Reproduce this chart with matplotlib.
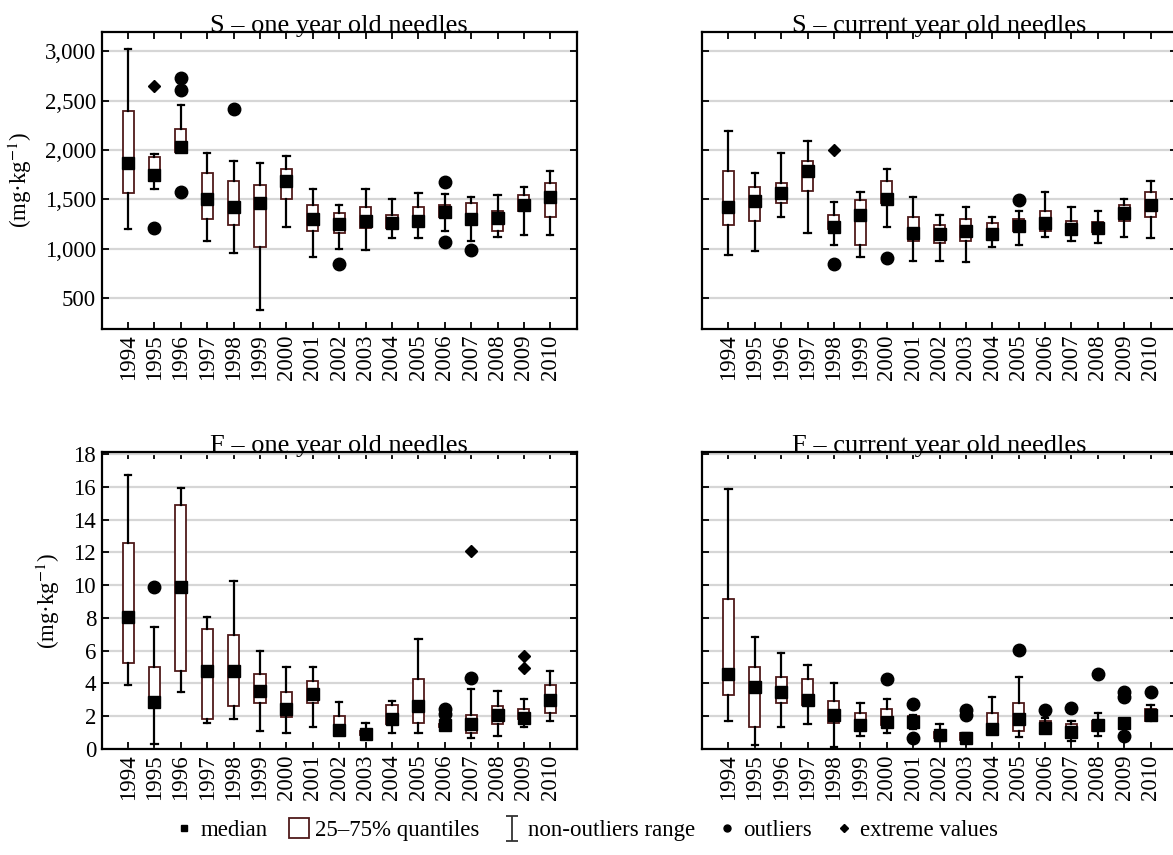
import matplotlib.pyplot as plt
from matplotlib.lines import Line2D
from matplotlib.path import Path
from matplotlib.ticker import StrMethodFormatter

plt.rcParams['font.family'] = ['Liberation Serif', 'DejaVu Serif']
plt.rcParams['mathtext.fontset'] = 'stix'

years = list(range(1994, 2011))

# S - one year old needles (mg/kg)
s1_lo = [1200, 1600, 1975, 1080, 960, 375, 1220, 920, 1000, 985, 1105, 1105, 1180, 1080, 1120, 1140, 1140]
s1_q1 = [1565, 1690, 1975, 1305, 1240, 1020, 1505, 1180, 1160, 1205, 1205, 1240, 1320, 1265, 1180, 1385, 1320]
s1_med = [1865, 1745, 2030, 1500, 1420, 1465, 1685, 1305, 1250, 1285, 1255, 1285, 1370, 1305, 1310, 1440, 1525]
s1_q3 = [2395, 1930, 2210, 1770, 1685, 1650, 1805, 1440, 1365, 1420, 1340, 1420, 1440, 1465, 1385, 1540, 1670]
s1_hi = [3020, 1960, 2455, 1970, 1885, 1870, 1935, 1605, 1440, 1605, 1500, 1565, 1550, 1520, 1540, 1625, 1785]
s1_out_x = [1995, 1996, 1996, 1996, 1998, 2002, 2006, 2006, 2007]
s1_out_y = [1210, 2735, 2610, 1570, 2420, 845, 1675, 1070, 985]
s1_ext_x = [1995]
s1_ext_y = [2645]

# S - current year old needles (mg/kg)
s2_lo = [935, 980, 1320, 1160, 1035, 920, 1220, 875, 875, 860, 1020, 1035, 1120, 1080, 1060, 1120, 1105]
s2_q1 = [1240, 1280, 1460, 1585, 1200, 1035, 1460, 1080, 1060, 1080, 1140, 1180, 1180, 1145, 1170, 1280, 1320]
s2_med = [1425, 1485, 1565, 1785, 1220, 1345, 1505, 1160, 1145, 1180, 1145, 1230, 1265, 1195, 1210, 1365, 1445]
s2_q3 = [1790, 1625, 1670, 1890, 1340, 1490, 1685, 1320, 1240, 1300, 1265, 1305, 1385, 1285, 1275, 1440, 1570]
s2_hi = [2190, 1770, 1970, 2090, 1470, 1570, 1805, 1525, 1340, 1425, 1325, 1385, 1570, 1425, 1385, 1505, 1685]
s2_out_x = [1998, 2000, 2005]
s2_out_y = [845, 910, 1495]
s2_ext_x = [1998]
s2_ext_y = [2000]

# F - one year old needles (mg/kg)
f1_lo = [3.9, 0.3, 3.45, 1.6, 1.85, 1.1, 1.0, 1.35, 0.95, 0.7, 1.0, 1.0, 1.3, 0.65, 0.8, 1.35, 1.7]
f1_q1 = [5.25, 2.8, 4.75, 1.85, 2.6, 2.8, 1.95, 2.8, 1.2, 0.85, 1.5, 1.6, 1.35, 1.0, 1.5, 1.85, 2.2]
f1_med = [8.05, 2.85, 9.9, 4.75, 4.75, 3.55, 2.45, 3.35, 1.15, 0.9, 1.85, 2.6, 1.45, 1.5, 2.1, 1.9, 3.0]
f1_q3 = [12.55, 5.0, 14.9, 7.3, 6.95, 4.6, 3.45, 4.15, 2.0, 1.1, 2.7, 4.3, 1.55, 2.1, 2.6, 2.45, 3.9]
f1_hi = [16.7, 7.45, 15.95, 8.05, 10.25, 6.0, 5.0, 5.0, 2.85, 1.6, 2.95, 6.7, 1.6, 3.65, 3.55, 3.05, 4.75]
f1_out_x = [1995, 2006, 2006, 2007]
f1_out_y = [9.9, 2.45, 2.15, 4.35]
f1_ext_x = [2007, 2009, 2009]
f1_ext_y = [12.1, 5.7, 4.95]

# F - current year old needles (mg/kg)
f2_lo = [1.7, 0.25, 1.35, 1.5, 0.1, 0.8, 1.0, 1.25, 0.5, 0.45, 1.05, 0.75, 0.95, 0.5, 0.8, 1.3, 1.75]
f2_q1 = [3.3, 1.35, 2.8, 2.7, 1.6, 1.1, 1.45, 1.35, 0.65, 0.55, 1.1, 1.1, 1.1, 0.7, 1.1, 1.4, 1.7]
f2_med = [4.55, 3.8, 3.45, 3.0, 2.1, 1.45, 1.65, 1.65, 0.85, 0.65, 1.25, 1.85, 1.3, 1.05, 1.45, 1.6, 2.1]
f2_q3 = [9.15, 5.0, 4.4, 4.3, 2.9, 2.2, 2.45, 2.0, 1.05, 1.0, 2.2, 2.8, 1.7, 1.5, 1.7, 1.7, 2.45]
f2_hi = [15.85, 6.85, 5.85, 5.15, 4.05, 2.8, 3.05, 2.1, 1.5, 1.0, 3.2, 4.4, 1.9, 1.7, 2.2, 1.8, 2.7]
f2_out_x = [2000, 2001, 2001, 2003, 2003, 2005, 2006, 2007, 2008, 2009, 2009, 2009, 2010]
f2_out_y = [4.25, 2.75, 0.65, 2.4, 2.05, 6.05, 2.4, 2.5, 4.6, 3.45, 3.15, 0.8, 3.45]
f2_ext_x = []
f2_ext_y = []

BOX_EDGE = '#4f1a1a'
GRID = '#d6d6d6'


def draw_panel(ax, title, lo, q1, med, q3, hi, out_x, out_y, ext_x, ext_y):
    pos = list(range(1, len(years) + 1))
    stats = [dict(whislo=a, q1=b, med=c, q3=d, whishi=e, fliers=[])
             for a, b, c, d, e in zip(lo, q1, med, q3, hi)]
    ax.bxp(stats, positions=pos, widths=0.42, capwidths=0.24, showfliers=False,
           patch_artist=True,
           boxprops=dict(facecolor='white', edgecolor=BOX_EDGE, linewidth=1.3),
           whiskerprops=dict(color='black', linewidth=1.6),
           capprops=dict(color='black', linewidth=1.6),
           medianprops=dict(visible=False))
    ax.plot(pos, med, 's', color='black', ms=8, zorder=4)
    ax.plot([years.index(y) + 1 for y in out_x], out_y, 'o', color='black', ms=9, zorder=4)
    ax.plot([years.index(y) + 1 for y in ext_x], ext_y, 'D', color='black', ms=6.5, zorder=4)

    ax.set_xlim(0, 18)
    ax.set_xticks(pos, [str(y) for y in years], rotation=90)
    ax.set_title(title, fontsize=19, pad=0)
    ax.yaxis.grid(True, color=GRID, linewidth=1.6)
    ax.set_axisbelow(True)
    ax.tick_params(direction='in', top=True, right=True, length=5, width=1.3,
                   labelsize=16.5, pad=4)
    for sp in ax.spines.values():
        sp.set_linewidth(1.6)


fig = plt.figure(figsize=(11.73, 8.55), dpi=100)
W, H = 1173, 855
ax_tl = fig.add_axes([101.7 / W, 1 - 329 / H, 475 / W, 297.3 / H])
ax_tr = fig.add_axes([702 / W, 1 - 329 / H, 475 / W, 297.3 / H])
ax_bl = fig.add_axes([101.7 / W, 1 - 749 / H, 475 / W, 296.7 / H])
ax_br = fig.add_axes([702 / W, 1 - 749 / H, 475 / W, 296.7 / H])

draw_panel(ax_tl, 'S – one year old needles', s1_lo, s1_q1, s1_med, s1_q3, s1_hi,
           s1_out_x, s1_out_y, s1_ext_x, s1_ext_y)
draw_panel(ax_tr, 'S – current year old needles', s2_lo, s2_q1, s2_med, s2_q3, s2_hi,
           s2_out_x, s2_out_y, s2_ext_x, s2_ext_y)
draw_panel(ax_bl, 'F – one year old needles', f1_lo, f1_q1, f1_med, f1_q3, f1_hi,
           f1_out_x, f1_out_y, f1_ext_x, f1_ext_y)
draw_panel(ax_br, 'F – current year old needles', f2_lo, f2_q1, f2_med, f2_q3, f2_hi,
           f2_out_x, f2_out_y, f2_ext_x, f2_ext_y)

for ax in (ax_tl, ax_tr):
    ax.set_ylim(185, 3200)
    ax.set_yticks(range(500, 3001, 500))
    ax.yaxis.set_major_formatter(StrMethodFormatter('{x:,.0f}'))
for ax in (ax_bl, ax_br):
    ax.set_ylim(0, 18.1)
    ax.set_yticks(range(0, 19, 2))
for ax in (ax_tr, ax_br):
    ax.tick_params(labelleft=False)
for ax in (ax_tl, ax_bl):
    ax.set_ylabel('(mg·kg$^{-1}$)', fontsize=16.5, labelpad=8)

# legend: I-shaped marker for the whisker range
i_path = Path([(-0.45, 1), (0.45, 1), (0, 1), (0, -1), (-0.45, -1), (0.45, -1)],
              [Path.MOVETO, Path.LINETO, Path.MOVETO, Path.LINETO, Path.MOVETO, Path.LINETO])
handles = [
    Line2D([], [], ls='none', marker='s', color='black', ms=4),
    Line2D([], [], ls='none', marker='s', mfc='white', mec=BOX_EDGE, mew=1.3, ms=15),
    Line2D([], [], ls='none', marker=i_path, color='#333333', mew=1.3, ms=18),
    Line2D([], [], ls='none', marker='o', color='black', ms=5),
    Line2D([], [], ls='none', marker='D', color='black', ms=4.5),
]
labels = ['median', '25–75% quantiles', 'non-outliers range', 'outliers', 'extreme values']
fig.legend(handles, labels, loc='lower center', bbox_to_anchor=(0.5, -0.008), ncol=5,
           frameon=False, fontsize=16.5, handlelength=0.8, handletextpad=0.3,
           columnspacing=1.0)

fig.savefig('out.png', dpi=100)
